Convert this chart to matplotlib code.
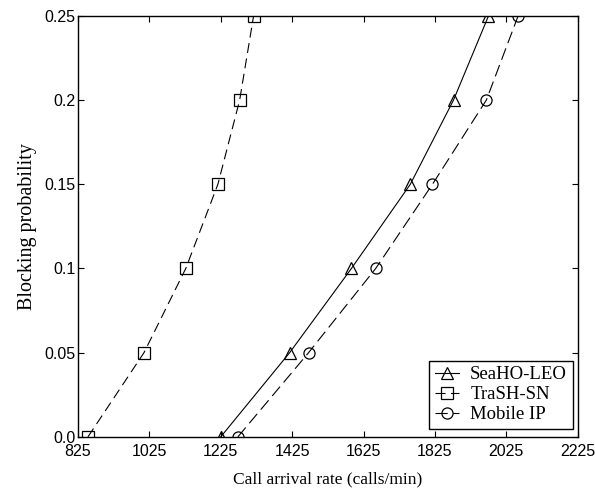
import numpy as np
import matplotlib
matplotlib.use('Agg')
import matplotlib.pyplot as plt

# blocking probability levels (shared by all series)
blocking = [0.0, 0.05, 0.1, 0.15, 0.2, 0.25]

# call arrival rates (calls/min)
seaho_leo = [1225, 1418, 1591, 1756, 1877, 1975]
trash_sn = [853, 1010, 1127, 1217, 1278, 1317]
mobile_ip = [1273, 1471, 1659, 1818, 1969, 2058]

xticks = [825, 1025, 1225, 1425, 1625, 1825, 2025, 2225]
yticks = [0.0, 0.05, 0.1, 0.15, 0.2, 0.25]
ytick_labels = ['0.0', '0.05', '0.1', '0.15', '0.2', '0.25']

fig = plt.figure(figsize=(5.95, 4.97), dpi=100)
ax = fig.add_axes([0.131, 0.121, 0.84, 0.847])

ax.plot(seaho_leo, blocking, c='k', linestyle='-', linewidth=0.8,
        marker='^', markersize=8, markerfacecolor='none', markeredgewidth=0.9,
        label='SeaHO-LEO')
ax.plot(trash_sn, blocking, c='k', linestyle=(0, (9, 5)), linewidth=0.8,
        marker='s', markersize=8, markerfacecolor='none', markeredgewidth=0.9,
        label='TraSH-SN')
ax.plot(mobile_ip, blocking, c='k', linestyle=(0, (11, 5)), linewidth=0.8,
        marker='o', markersize=8, markerfacecolor='none', markeredgewidth=0.9,
        label='Mobile IP')

ax.set_xlim(825, 2225)
ax.set_ylim(0, 0.25)
ax.set_xticks(xticks)
ax.set_yticks(yticks)
ax.set_yticklabels(ytick_labels)
ax.tick_params(direction='in', top=True, right=True, length=4, width=0.8,
               labelsize=11.5)
ax.tick_params(axis='x', pad=5)
ax.tick_params(axis='y', pad=2)
for lab in ax.get_xticklabels() + ax.get_yticklabels():
    lab.set_family('Liberation Sans')
for s in ax.spines.values():
    s.set_linewidth(1.0)

ax.set_xlabel('Call arrival rate (calls/min)', family='Liberation Serif',
              fontsize=12.5, labelpad=9)
ax.set_ylabel('Blocking probability', family='Liberation Serif',
              fontsize=14.5, labelpad=5)

leg = ax.legend(loc='lower right', bbox_to_anchor=(0.99, 0.019),
                prop={'family': 'Liberation Serif', 'size': 13.5},
                frameon=True, fancybox=False, edgecolor='k', framealpha=1,
                handlelength=1.3, borderaxespad=0, labelspacing=0.15,
                handletextpad=0.6, borderpad=0.3)
leg.get_frame().set_linewidth(1.0)

plt.savefig('out.png', facecolor='white', dpi=100)
plt.close()
